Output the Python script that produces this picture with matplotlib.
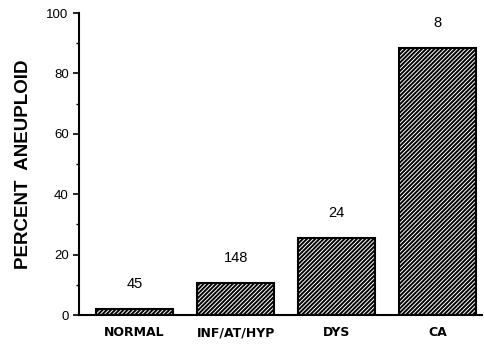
import matplotlib
matplotlib.use("Agg")
import matplotlib.pyplot as plt
import numpy as np

plt.rcParams['font.family'] = ['Liberation Sans', 'DejaVu Sans']
plt.rcParams['hatch.linewidth'] = 1.4

#data
categories = ['NORMAL', 'INF/AT/HYP', 'DYS', 'CA']
percent = [2.0, 10.6, 25.5, 88.4]
counts = ['45', '148', '24', '8']

fig = plt.figure(figsize=(4.85, 3.44), dpi=100)
ax = fig.add_axes([0.163, 0.084, 0.831, 0.878])

x = np.arange(len(categories))
bars = ax.bar(x, percent, width=0.76, color='white', edgecolor='black',
              linewidth=1.5, hatch='////////')

#sample sizes above each bar
for xi, p, n in zip(x, percent, counts):
    ax.text(xi, p + 8.3, n, ha='center', va='center', fontsize=10.5)

ax.set_xlim(-0.55, 3.44)
ax.set_ylim(0, 100)
ax.set_xticks(x)
ax.set_xticklabels(categories, fontsize=9, fontweight='bold', family='DejaVu Sans')
ax.set_yticks(np.arange(0, 101, 20))
ax.set_yticks(np.arange(10, 100, 20), minor=True)
ax.tick_params(axis='y', labelsize=9.5, length=4, width=1.2)
ax.tick_params(axis='y', which='minor', length=2, width=1)
ax.tick_params(axis='x', length=0, pad=8)
ax.set_ylabel('PERCENT  ANEUPLOID', fontsize=13.5, fontweight='bold', labelpad=10)

ax.spines['top'].set_visible(False)
ax.spines['right'].set_visible(False)
ax.spines['left'].set_linewidth(1.5)
ax.spines['bottom'].set_linewidth(1.5)

fig.savefig('out.png', dpi=100)
